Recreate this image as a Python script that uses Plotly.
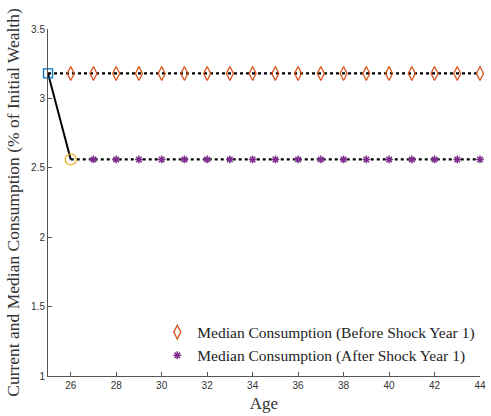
import plotly.graph_objects as go

ages_before = list(range(25, 45))
before_level = [3.18] * len(ages_before)
ages_diamond = list(range(26, 45))
diamond_vals = [3.18] * len(ages_diamond)
ages_after = list(range(26, 45))
after_level = [2.56] * len(ages_after)
ages_star = list(range(27, 45))
star_vals = [2.56] * len(ages_star)
current_ages = [25, 26]
current_vals = [3.18, 2.56]

serif = "Liberation Serif, Times New Roman, serif"
sans = "Liberation Sans, Arial, sans-serif"

fig = go.Figure()
fig.add_trace(go.Scatter(x=ages_before, y=before_level, mode="lines",
                         line=dict(color="black", dash="dot", width=2.2),
                         showlegend=False, hoverinfo="skip"))
fig.add_trace(go.Scatter(x=ages_after, y=after_level, mode="lines",
                         line=dict(color="black", dash="dot", width=2.2),
                         showlegend=False, hoverinfo="skip"))
fig.add_trace(go.Scatter(x=current_ages, y=current_vals, mode="lines",
                         line=dict(color="black", width=2),
                         showlegend=False, hoverinfo="skip"))
fig.add_trace(go.Scatter(x=ages_diamond, y=diamond_vals, mode="markers",
                         marker=dict(symbol="diamond-tall-open", size=10, color="#D95319",
                                     line=dict(width=1.3, color="#D95319")),
                         name="Median Consumption (Before Shock Year 1)", cliponaxis=False))
fig.add_trace(go.Scatter(x=ages_star, y=star_vals, mode="markers",
                         marker=dict(symbol="asterisk-open", size=6.5, color="#7E2F8E",
                                     line=dict(width=1.5, color="#7E2F8E")),
                         name="Median Consumption (After Shock Year 1)", cliponaxis=False))
fig.add_trace(go.Scatter(x=[current_ages[0]], y=[current_vals[0]], mode="markers",
                         marker=dict(symbol="square-open", size=9, color="#0072BD",
                                     line=dict(width=1.3, color="#0072BD")),
                         showlegend=False, cliponaxis=False))
fig.add_trace(go.Scatter(x=[current_ages[1]], y=[current_vals[1]], mode="markers",
                         marker=dict(symbol="circle-open", size=11, color="#EDB120",
                                     line=dict(width=1.3, color="#EDB120")),
                         showlegend=False, cliponaxis=False))

fig.update_layout(
    width=491, height=416,
    margin=dict(l=48, r=5, t=29, b=40),
    plot_bgcolor="white", paper_bgcolor="white",
    legend=dict(x=0.253, y=0.01, xanchor="left", yanchor="bottom",
                font=dict(family=serif, size=15.5, color="#222"),
                bgcolor="rgba(0,0,0,0)", tracegroupgap=0, itemsizing="trace"),
    xaxis=dict(range=[25, 44], tickmode="array", tickvals=list(range(26, 45, 2)),
               showline=True, linecolor="#555", linewidth=1, mirror=False,
               ticks="inside", ticklen=4, tickcolor="#555", showgrid=False, zeroline=False,
               ticklabeloverflow="allow",
               tickfont=dict(family=sans, size=10, color="#333"),
               title=dict(text="Age", font=dict(family=serif, size=17, color="#333"), standoff=7)),
    yaxis=dict(range=[1, 3.5], tickmode="array", tickvals=[1, 1.5, 2, 2.5, 3, 3.5],
               ticktext=["1", "1.5", "2", "2.5", "3", "3.5"],
               showline=True, linecolor="#555", linewidth=1, mirror=False,
               ticks="inside", ticklen=4, tickcolor="#555", showgrid=False, zeroline=False,
               ticklabeloverflow="allow",
               tickfont=dict(family=sans, size=10, color="#333"),
               title=dict(text="Current and Median Consumption (% of Initial Wealth)",
                          font=dict(family=serif, size=17.5, color="#333"), standoff=6)),
)
fig.write_html("out.html")
